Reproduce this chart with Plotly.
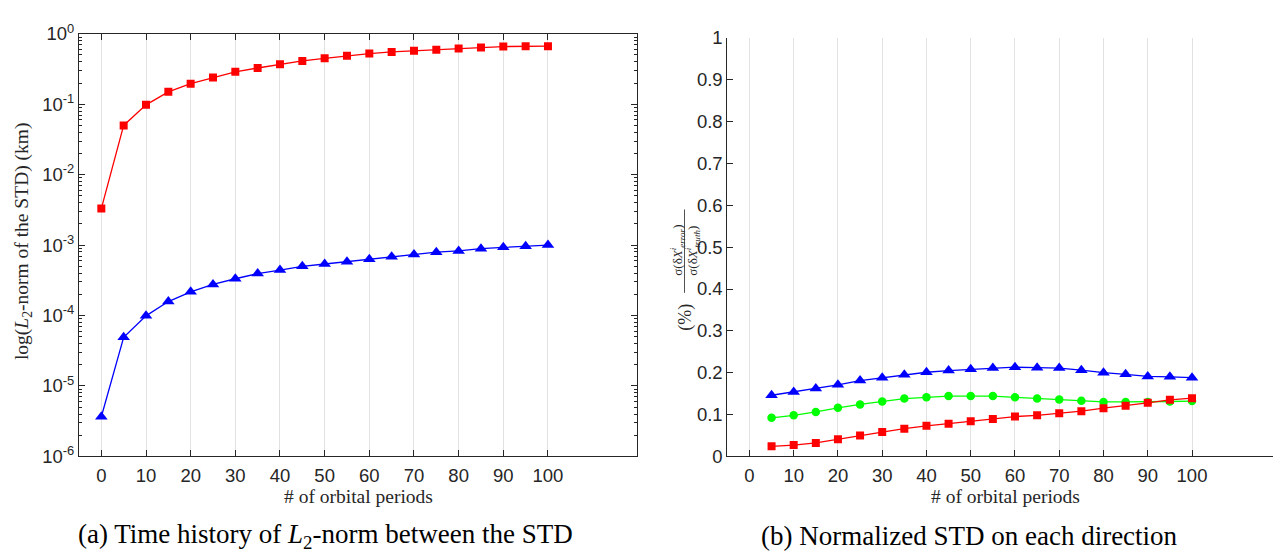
import plotly.graph_objects as go

# Orbital periods sampled every 5
periods = [0, 5, 10, 15, 20, 25, 30, 35, 40, 45, 50, 55, 60, 65, 70, 75, 80, 85, 90, 95, 100]
periods_b = periods[1:]

# (a) L2-norm of the STD difference, km (log scale)
l2_red = [3.3e-3, 0.050, 0.098, 0.150, 0.196, 0.239, 0.289, 0.327, 0.371, 0.412, 0.448,
          0.487, 0.524, 0.552, 0.575, 0.593, 0.619, 0.638, 0.659, 0.666, 0.668]
l2_blue = [3.66e-6, 4.9e-5, 9.9e-5, 1.58e-4, 2.17e-4, 2.76e-4, 3.33e-4, 3.94e-4, 4.42e-4,
           5.0e-4, 5.39e-4, 5.8e-4, 6.3e-4, 6.86e-4, 7.38e-4, 7.94e-4, 8.28e-4, 8.9e-4,
           9.29e-4, 9.6e-4, 1.0e-3]

# (b) Normalized STD per direction, %
norm_blue = [0.146, 0.154, 0.162, 0.171, 0.181, 0.188, 0.195, 0.201, 0.205, 0.208, 0.211,
             0.213, 0.212, 0.211, 0.206, 0.200, 0.196, 0.191, 0.190, 0.188]
norm_green = [0.092, 0.098, 0.106, 0.116, 0.124, 0.131, 0.138, 0.141, 0.144, 0.144, 0.144,
              0.141, 0.138, 0.136, 0.133, 0.130, 0.130, 0.130, 0.131, 0.132]
norm_red = [0.024, 0.027, 0.032, 0.041, 0.050, 0.058, 0.066, 0.073, 0.078, 0.084, 0.089,
            0.095, 0.098, 0.103, 0.108, 0.115, 0.121, 0.128, 0.135, 0.139]

x_ticks = list(range(0, 101, 10))
log_exps = [-6, -5, -4, -3, -2, -1, 0]
log_tickvals = [10.0 ** e for e in log_exps]
log_ticktext = ["10<sup>%d</sup>" % e for e in log_exps]
log_minor = [k * 10.0 ** e for e in range(-6, 0) for k in range(2, 10)]

W, H = 1273, 552
AX = "#262626"
GRID = "#e2e2e2"
TICKFONT = dict(family="Liberation Sans, Arial, sans-serif", size=18.5, color=AX)
SERIF = "Liberation Serif, Times New Roman, serif"


def px_x(v):
    return v / W


def px_y(v):
    return 1 - v / H


fig = go.Figure()

fig.add_trace(go.Scatter(x=periods, y=l2_red, mode="lines+markers",
                         line=dict(color="#ff0000", width=1.3),
                         marker=dict(symbol="square", size=8, color="#ff0000"),
                         xaxis="x", yaxis="y", showlegend=False))
fig.add_trace(go.Scatter(x=periods, y=l2_blue, mode="lines+markers",
                         line=dict(color="#0000ff", width=1.3),
                         marker=dict(symbol="triangle-up", size=11, color="#0000ff"),
                         xaxis="x", yaxis="y", showlegend=False))

fig.add_trace(go.Scatter(x=periods_b, y=norm_blue, mode="lines+markers",
                         line=dict(color="#0000ff", width=1.3),
                         marker=dict(symbol="triangle-up", size=11, color="#0000ff"),
                         xaxis="x2", yaxis="y2", showlegend=False))
fig.add_trace(go.Scatter(x=periods_b, y=norm_green, mode="lines+markers",
                         line=dict(color="#00ff00", width=1.3),
                         marker=dict(symbol="circle", size=8.5, color="#00ff00"),
                         xaxis="x2", yaxis="y2", showlegend=False))
fig.add_trace(go.Scatter(x=periods_b, y=norm_red, mode="lines+markers",
                         line=dict(color="#ff0000", width=1.3),
                         marker=dict(symbol="square", size=8, color="#ff0000"),
                         xaxis="x2", yaxis="y2", showlegend=False))

left_x = [px_x(79), px_x(637.3)]
left_y = [px_y(462.7), px_y(21.7)]
right_x = [px_x(727.3), 1.0]
right_y = [px_y(462.6), px_y(26.1)]

log_axis_common = dict(type="log", range=[-6, 0], tickmode="array",
                       tickvals=log_tickvals, ticks="inside", ticklen=6, tickcolor=AX,
                       minor=dict(tickmode="array", tickvals=log_minor, ticks="inside",
                                  ticklen=3, tickcolor=AX, showgrid=False),
                       showline=True, linecolor=AX, linewidth=1,
                       showgrid=False, zeroline=False)

fig.update_layout(
    width=W, height=H,
    margin=dict(l=0, r=0, t=0, b=0),
    paper_bgcolor="white", plot_bgcolor="white",
    xaxis=dict(domain=left_x, anchor="y", range=[-5, 120], tickmode="array",
               tickvals=x_ticks, ticks="inside", ticklen=6, tickcolor=AX,
               showline=True, linecolor=AX, linewidth=1, mirror="ticks",
               showgrid=True, gridcolor=GRID, gridwidth=1, zeroline=False,
               tickfont=TICKFONT, ticklabelstandoff=2),
    yaxis=dict(domain=left_y, anchor="x", ticktext=log_ticktext, tickfont=TICKFONT,
               **log_axis_common),
    # right-hand frame of panel (a), carrying the mirrored major/minor ticks
    yaxis3=dict(overlaying="y", anchor="x", side="right", showticklabels=False,
                **log_axis_common),
    xaxis2=dict(domain=right_x, anchor="y2", range=[-5, 118.3], tickmode="array",
                tickvals=x_ticks, ticks="inside", ticklen=6, tickcolor=AX,
                showline=True, linecolor=AX, linewidth=1,
                showgrid=True, gridcolor=GRID, gridwidth=1, zeroline=False,
                tickfont=TICKFONT, ticklabelstandoff=2),
    yaxis2=dict(domain=right_y, anchor="x2", range=[0, 1], tickmode="linear",
                tick0=0, dtick=0.1, ticks="inside", ticklen=6, tickcolor=AX,
                showline=True, linecolor=AX, linewidth=1,
                showgrid=False, zeroline=False, tickfont=TICKFONT),
)

# Dummy trace so the right-hand frame axis is rendered
fig.add_trace(go.Scatter(x=[None], y=[None], xaxis="x", yaxis="y3",
                         showlegend=False, hoverinfo="skip"))


def label(text, x, y, size, angle=0, color=AX):
    fig.add_annotation(text=text, xref="paper", yref="paper", x=px_x(x), y=px_y(y),
                       xanchor="center", yanchor="middle", textangle=angle,
                       showarrow=False, font=dict(family=SERIF, size=size, color=color))


# Axis titles
label("# of orbital periods", 358, 504, 19.5)
label("# of orbital periods", 1005, 504, 19.5)
label("log(<i>L</i><sub>2</sub>-norm of the STD) (km)", 23, 238, 19.5, angle=-90)

# Stacked ratio label for panel (b)
label("σ(δ<i>X</i><sup><i>i</i></sup><sub><i>error</i></sub>)", 677, 248, 13, angle=-90)
label("σ(δ<i>X</i><sup><i>i</i></sup><sub><i>truth</i></sub>)", 692, 248, 13, angle=-90)
fig.add_shape(type="line", xref="paper", yref="paper",
              x0=px_x(684.5), x1=px_x(684.5), y0=px_y(205), y1=px_y(292),
              line=dict(color=AX, width=0.8))
label("(%)", 686, 318, 18, angle=-90)

# Sub-figure captions
label("(a) Time history of <i>L</i><sub>2</sub>-norm between the STD", 326, 546, 27,
      color="black")
label("(b) Normalized STD on each direction", 969, 546, 27, color="black")

fig.write_html("out.html")
